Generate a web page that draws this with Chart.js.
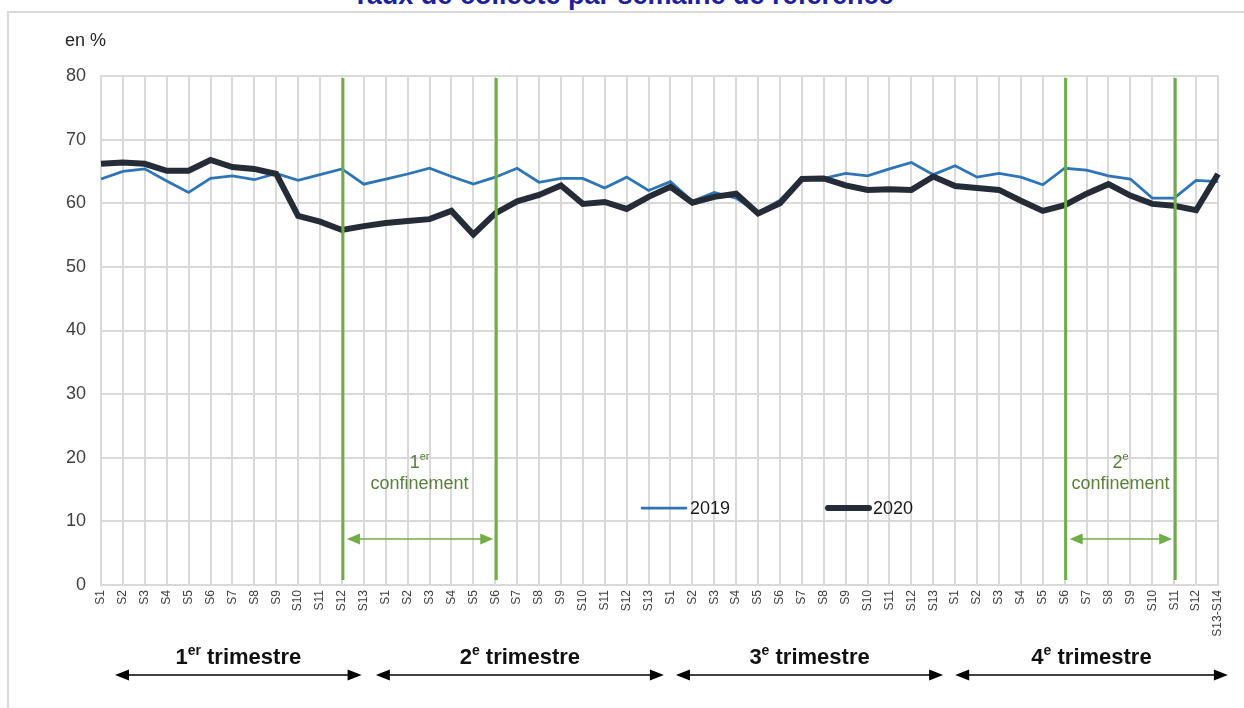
<!DOCTYPE html>
<html>
<head>
<meta charset="utf-8">
<script src="https://cdn.jsdelivr.net/npm/chart.js@4.4.1/dist/chart.umd.min.js"></script>
<style>
  body { margin: 0; background: #fff; font-family: "Liberation Sans", Arial, sans-serif; }
  #wrap { position: relative; width: 1244px; height: 708px; overflow: hidden; }
  #frame { position: absolute; left: 7px; top: 11px; width: 1250px; height: 710px; border: 2px solid #d9d9d9; }
  #title { position: absolute; left: 0; width: 1246px; top: -18px; text-align: center; line-height: 27px;
           font-weight: bold; font-size: 27px; color: #1f1f9a; }
  canvas { position: absolute; left: 0; top: 0; }
</style>
</head>
<body>
<div id="wrap">
  <div id="frame"></div>
  <div id="title">Taux de collecte par semaine de référence</div>
  <canvas id="chart" width="1244" height="708"></canvas>
</div>
<script>
// Week labels, one per point (4 quarters)
const weekLabels = [
  "S1","S2","S3","S4","S5","S6","S7","S8","S9","S10","S11","S12","S13",
  "S1","S2","S3","S4","S5","S6","S7","S8","S9","S10","S11","S12","S13",
  "S1","S2","S3","S4","S5","S6","S7","S8","S9","S10","S11","S12","S13",
  "S1","S2","S3","S4","S5","S6","S7","S8","S9","S10","S11","S12","S13-S14"
];

// Collection rate in %
const rate2019 = [
  63.8, 65.0, 65.4, 63.5, 61.7, 63.9, 64.3, 63.7, 64.7, 63.6, 64.5, 65.4, 63.0,
  63.8, 64.6, 65.5, 64.2, 63.0, 64.1, 65.5, 63.3, 63.9, 63.9, 62.4, 64.1, 62.0,
  63.4, 60.3, 61.7, 60.8, 58.5, 60.5, 63.9, 63.9, 64.7, 64.3, 65.4, 66.4, 64.5,
  65.9, 64.1, 64.7, 64.1, 62.9, 65.5, 65.2, 64.3, 63.8, 60.8, 60.8, 63.6, 63.4
];
const rate2020 = [
  66.2, 66.4, 66.2, 65.1, 65.1, 66.8, 65.7, 65.4, 64.6, 58.0, 57.1, 55.8, 56.4,
  56.9, 57.2, 57.5, 58.8, 55.1, 58.4, 60.3, 61.3, 62.8, 59.9, 60.2, 59.1, 61.0,
  62.6, 60.1, 61.0, 61.5, 58.4, 60.0, 63.8, 63.9, 62.8, 62.1, 62.2, 62.1, 64.2,
  62.7, 62.4, 62.1, 60.4, 58.8, 59.7, 61.5, 63.0, 61.2, 59.9, 59.6, 58.9, 64.6
];

const yTicks = [0, 10, 20, 30, 40, 50, 60, 70, 80];

// Lockdown periods: index of start / end week on the x axis
const lockdowns = [
  { num: "1", sup: "er", start: 11, end: 18 },
  { num: "2", sup: "e", start: 44, end: 49 }
];

// Quarter arrows under the axis (fractional category positions)
const quarters = [
  { num: "1", sup: "er", from: 0.64, to: 11.9 },
  { num: "2", sup: "e", from: 12.55, to: 25.7 },
  { num: "3", sup: "e", from: 26.25, to: 38.45 },
  { num: "4", sup: "e", from: 39.0, to: 51.45 }
];

const blue = "#2e75b6";
const dark = "#262c37";
const green = "#70ad47";
const greenText = "#5b803d";
const fontFamily = "'Liberation Sans', Arial, sans-serif";

function arrow(ctx, x1, x2, y, color, lw, headLen, headH) {
  ctx.save();
  ctx.strokeStyle = color;
  ctx.fillStyle = color;
  ctx.lineWidth = lw;
  ctx.beginPath();
  ctx.moveTo(x1 + headLen - 1, y);
  ctx.lineTo(x2 - headLen + 1, y);
  ctx.stroke();
  ctx.beginPath();
  ctx.moveTo(x1, y);
  ctx.lineTo(x1 + headLen, y - headH / 2);
  ctx.lineTo(x1 + headLen, y + headH / 2);
  ctx.closePath();
  ctx.fill();
  ctx.beginPath();
  ctx.moveTo(x2, y);
  ctx.lineTo(x2 - headLen, y - headH / 2);
  ctx.lineTo(x2 - headLen, y + headH / 2);
  ctx.closePath();
  ctx.fill();
  ctx.restore();
}

// number + superscript + rest, centered on cx
function supText(ctx, cx, y, num, sup, rest, size, supSize, weight, color) {
  ctx.save();
  ctx.fillStyle = color;
  ctx.textBaseline = "alphabetic";
  ctx.textAlign = "left";
  const f = weight + " " + size + "px " + fontFamily;
  const fs = weight + " " + supSize + "px " + fontFamily;
  ctx.font = f;
  const wNum = ctx.measureText(num).width;
  const wRest = rest ? ctx.measureText(rest).width : 0;
  ctx.font = fs;
  const wSup = ctx.measureText(sup).width;
  let x = cx - (wNum + wSup + wRest) / 2;
  ctx.font = f;
  ctx.fillText(num, x, y);
  x += wNum;
  ctx.font = fs;
  ctx.fillText(sup, x, y - size * 0.42);
  x += wSup;
  if (rest) {
    ctx.font = f;
    ctx.fillText(rest, x, y);
  }
  ctx.restore();
}

const annotations = {
  id: "annotations",
  afterDatasetsDraw(chart) {
    const ctx = chart.ctx;
    const xs = chart.scales.x;
    const area = chart.chartArea;

    // green lockdown bars, arrows and labels
    lockdowns.forEach((l) => {
      const xa = xs.getPixelForValue(l.start) + 1;
      const xb = xs.getPixelForValue(l.end) + 1;
      ctx.save();
      ctx.strokeStyle = green;
      ctx.lineWidth = 3;
      [xa, xb].forEach((x) => {
        ctx.beginPath();
        ctx.moveTo(x, area.top + 2);
        ctx.lineTo(x, area.bottom - 5);
        ctx.stroke();
      });
      ctx.restore();
      arrow(ctx, xa + 4, xb - 3, 539, green, 1.5, 13, 11);
      const cx = (xa + xb) / 2;
      supText(ctx, cx, 468, l.num, l.sup, "", 18, 11, "normal", greenText);
      ctx.save();
      ctx.fillStyle = greenText;
      ctx.font = "18px " + fontFamily;
      ctx.textAlign = "center";
      ctx.textBaseline = "alphabetic";
      ctx.fillText("confinement", cx, 489);
      ctx.restore();
    });

    // legend inside the plot
    ctx.save();
    ctx.lineCap = "round";
    ctx.strokeStyle = blue;
    ctx.lineWidth = 2.75;
    ctx.beginPath();
    ctx.moveTo(642, 508);
    ctx.lineTo(686, 508);
    ctx.stroke();
    ctx.strokeStyle = dark;
    ctx.lineWidth = 6;
    ctx.beginPath();
    ctx.moveTo(828, 508);
    ctx.lineTo(869, 508);
    ctx.stroke();
    ctx.fillStyle = "#1a1a1a";
    ctx.font = "18px " + fontFamily;
    ctx.textBaseline = "middle";
    ctx.textAlign = "left";
    ctx.fillText("2019", 690, 509);
    ctx.fillText("2020", 873, 509);

    // unit label
    ctx.fillStyle = "#262626";
    ctx.fillText("en %", 65, 41);
    ctx.restore();

    // quarters under the x axis
    quarters.forEach((q) => {
      const xa = xs.getPixelForValue(q.from);
      const xb = xs.getPixelForValue(q.to);
      arrow(ctx, xa, xb, 675, "#000", 1.5, 14, 11);
      supText(ctx, (xa + xb) / 2, 664, q.num, q.sup, " trimestre", 22, 14, "bold", "#111");
    });
  }
};

new Chart(document.getElementById("chart"), {
  type: "line",
  data: {
    labels: weekLabels,
    datasets: [
      {
        label: "2019",
        data: rate2019,
        borderColor: blue,
        borderWidth: 2.75,
        pointRadius: 0,
        tension: 0,
        order: 1
      },
      {
        label: "2020",
        data: rate2020,
        borderColor: dark,
        borderWidth: 6,
        pointRadius: 0,
        tension: 0,
        order: 0
      }
    ]
  },
  options: {
    responsive: false,
    animation: false,
    layout: { padding: { top: 76, right: 26, left: 0, bottom: 0 } },
    plugins: {
      legend: { display: false },
      tooltip: { enabled: false }
    },
    scales: {
      x: {
        afterFit: (scale) => { scale.height = 123; },
        grid: { color: "#d9d9d9", lineWidth: 2, drawTicks: false },
        border: { color: "#d9d9d9", width: 2 },
        ticks: {
          autoSkip: false,
          maxRotation: 90,
          minRotation: 90,
          padding: 5,
          color: "#404040",
          font: { family: fontFamily, size: 12 }
        }
      },
      y: {
        min: 0,
        max: 80,
        afterFit: (scale) => { scale.width = 101; },
        afterBuildTicks: (scale) => { scale.ticks = yTicks.map((v) => ({ value: v })); },
        grid: { color: "#d9d9d9", lineWidth: 2, drawTicks: false },
        border: { color: "#d9d9d9", width: 2 },
        ticks: {
          padding: 15,
          color: "#404040",
          font: { family: fontFamily, size: 18 }
        }
      }
    }
  },
  plugins: [annotations]
});
</script>
</body>
</html>
